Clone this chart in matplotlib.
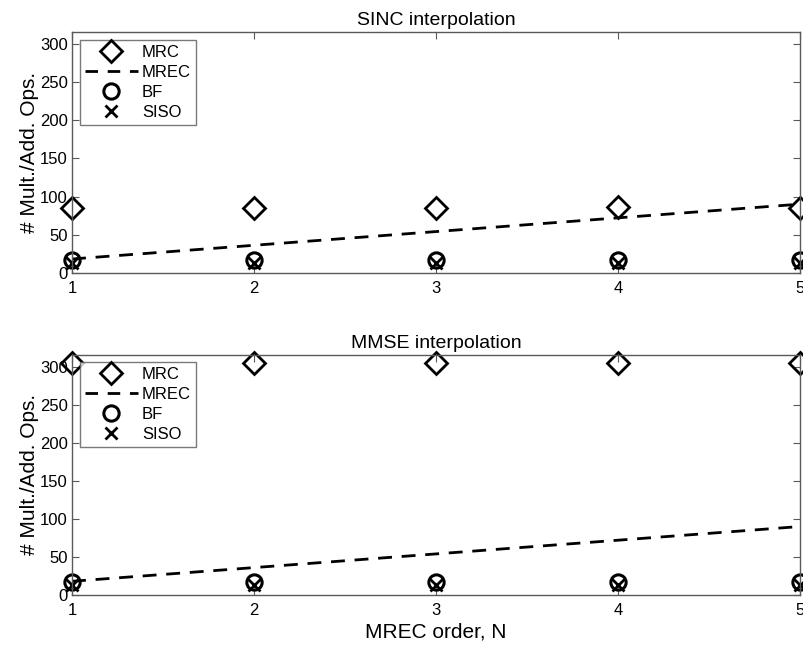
import numpy as np
import matplotlib
matplotlib.use('Agg')
import matplotlib.pyplot as plt

plt.rcParams['font.family'] = ['Liberation Sans', 'DejaVu Sans']

# MREC order
order = [1, 2, 3, 4, 5]

# SINC interpolation
sinc_mrc = [85, 85, 85, 86, 85]
sinc_mrec = [18, 36, 54, 72, 90]
sinc_bf = [17, 17, 17, 17, 17]
sinc_siso = [13, 13, 13, 13, 13]

# MMSE interpolation
mmse_mrc = [305, 305, 305, 305, 305]
mmse_mrec = [18, 36, 54, 72, 90]
mmse_bf = [17, 17, 17, 17, 17]
mmse_siso = [13, 13, 13, 13, 13]

yticks = [0, 50, 100, 150, 200, 250, 300]
titles = ['SINC interpolation', 'MMSE interpolation']


def draw(ax, mrc, mrec, bf, siso, title):
    ax.plot(order, mrc, linestyle='none', marker='D', markersize=11,
            markerfacecolor='none', markeredgecolor='k', markeredgewidth=2,
            label='MRC', clip_on=False)
    ax.plot(order, mrec, linestyle='--', color='k', linewidth=2,
            dashes=(5, 3.5), label='MREC')
    ax.plot(order, bf, linestyle='none', marker='o', markersize=11,
            markerfacecolor='none', markeredgecolor='k', markeredgewidth=2.2,
            label='BF', clip_on=False)
    ax.plot(order, siso, linestyle='none', marker='x', markersize=8,
            markeredgecolor='k', markeredgewidth=2, label='SISO', clip_on=False)

    ax.set_xlim(1, 5)
    ax.set_ylim(0, 316)
    ax.set_xticks(order)
    ax.set_yticks(yticks)
    ax.tick_params(direction='in', length=5, top=True, right=True,
                   labelsize=12, color='0.35', pad=3)
    ax.tick_params(axis='x', pad=6)
    for s in ax.spines.values():
        s.set_color('0.35')
        s.set_linewidth(1)
    ax.set_title(title, fontsize=14, pad=5)
    ax.set_ylabel('# Mult./Add. Ops.', fontsize=15, labelpad=1)
    leg = ax.legend(loc='upper left', bbox_to_anchor=(0.0, 1.0),
                    fontsize=12, handlelength=3.2, handletextpad=0.25,
                    borderpad=0.3, labelspacing=0.3, fancybox=False,
                    borderaxespad=0.45, markerscale=1.0)
    leg.get_frame().set_edgecolor('0.35')
    leg.get_frame().set_linewidth(1)
    leg.get_lines()[1].set_dashes((4.5, 3.5))


fig = plt.figure(figsize=(8.04, 6.47), dpi=100)
ax1 = fig.add_axes([0.0896, 0.5785, 0.905, 0.372])
ax2 = fig.add_axes([0.0896, 0.0804, 0.905, 0.3714])

draw(ax1, sinc_mrc, sinc_mrec, sinc_bf, sinc_siso, titles[0])
draw(ax2, mmse_mrc, mmse_mrec, mmse_bf, mmse_siso, titles[1])
ax2.set_xlabel('MREC order, N', fontsize=15, labelpad=3)

fig.savefig('out.png', dpi=100)
